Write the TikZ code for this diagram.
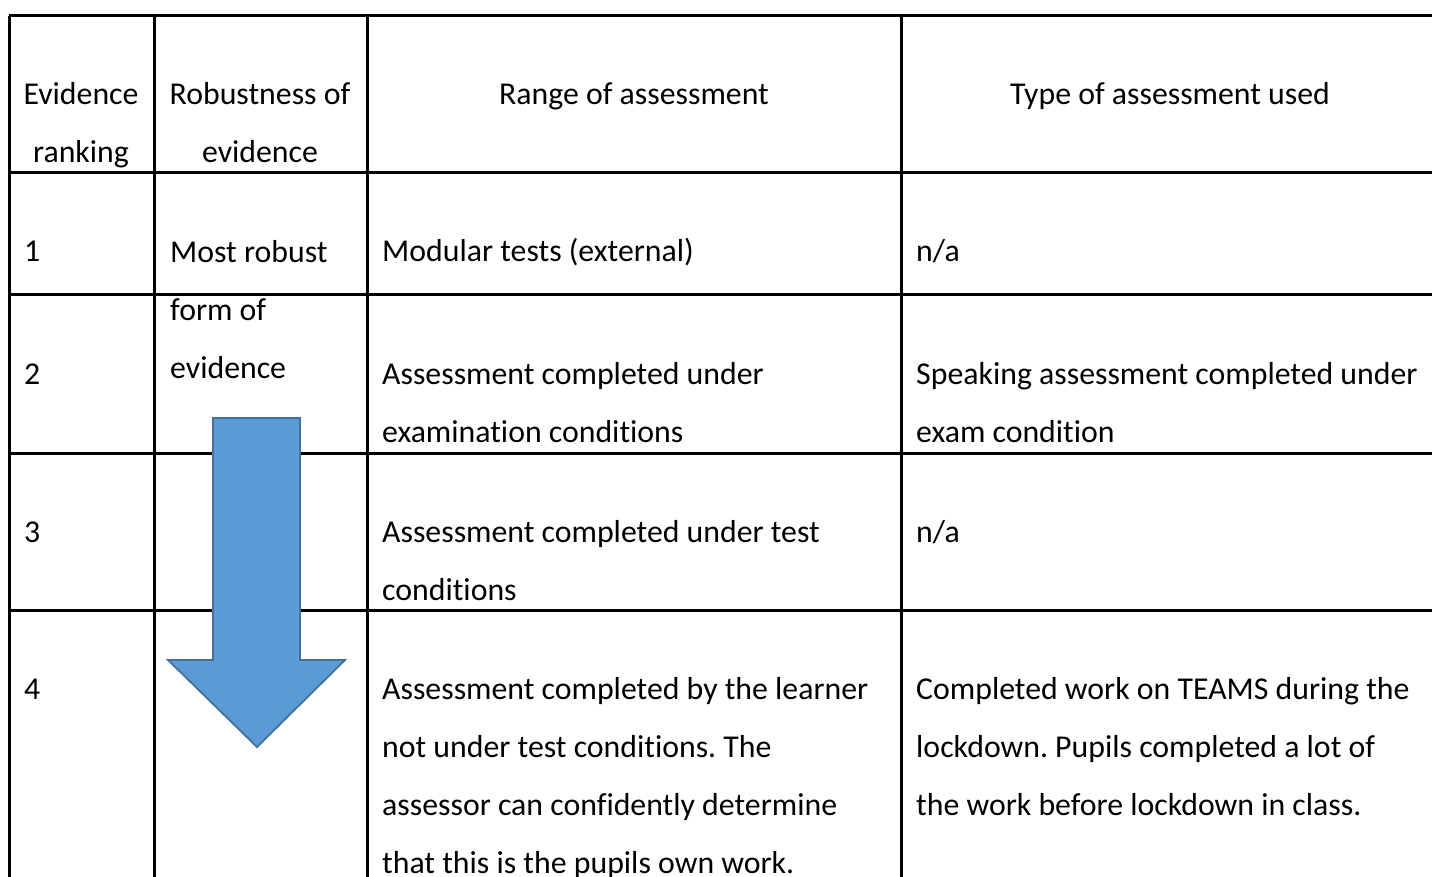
\documentclass[tikz,border=0pt]{standalone}
\usepackage{fontspec}
\setmainfont{Carlito}[Ligatures=NoCommon]
\frenchspacing
\definecolor{arrowblue}{HTML}{5B9BD5}
\definecolor{arrowedge}{HTML}{41719C}

\begin{document}
\begin{tikzpicture}[
    x=1pt, y=-1pt,
    every node/.style={font=\fontsize{31.8}{58}\selectfont, inner sep=0pt},
    cell/.style={anchor=base west, align=left},
    head/.style={anchor=base, align=center},
    rule/.style={line width=3pt},
    bigarrow/.style={fill=arrowblue, draw=arrowedge, line width=1.8pt, line join=miter}
]
\useasboundingbox (0,0) rectangle (1432,877);

% Grid lines
\begin{scope}
\clip (0,0) rectangle (1432,877);
\foreach \ly in {16,173,295,453,610}
    \draw[rule] (9,\ly) -- (1440,\ly);
\foreach \lx in {9,154,367,901}
    \draw[rule] (\lx,16) -- (\lx,880);
\end{scope}

% Header (multi-line nodes sit on their last baseline)
\node[head] (hrank) at (81,163) {Evidence\\ranking};
\node[head] (hrobust) at (260,163) {Robustness of\\evidence};
\node[head] (hrange) at (634,105) {Range of assessment};
\node[head] (htype) at (1170,105) {Type of assessment used};

% Rows
\node[cell] (r1) at (24,262) {1};
\node[cell] (r2) at (24,384) {2};
\node[cell] (r3) at (24,542) {3};
\node[cell] (r4) at (24,699) {4};

\node[cell] (most) at (170,378) {Most robust\\form of\\evidence};

\node[cell] (range1) at (382,262) {Modular tests (external)};
\node[cell] (range2) at (382,442) {Assessment completed under\\examination conditions};
\node[cell] (range3) at (382,600) {Assessment completed under test\\conditions};
\node[cell] (range4) at (382,873) {Assessment completed by the learner\\not under test conditions. The\\assessor can confidently determine\\that this is the pupils own work.};

\node[cell] (type1) at (916,262) {n/a};
\node[cell] (type2) at (916,442) {Speaking assessment completed under\\exam condition};
\node[cell] (type3) at (916,542) {n/a};
\node[cell] (type4) at (916,815) {Completed work on TEAMS during the\\lockdown. Pupils completed a lot of\\the work before lockdown in class.};

% Arrow
\draw[bigarrow] (213,418) -- (300,418) -- (300,660) -- (345,660) -- (257,747)
    -- (168,660) -- (213,660) -- cycle;

\end{tikzpicture}
\end{document}
